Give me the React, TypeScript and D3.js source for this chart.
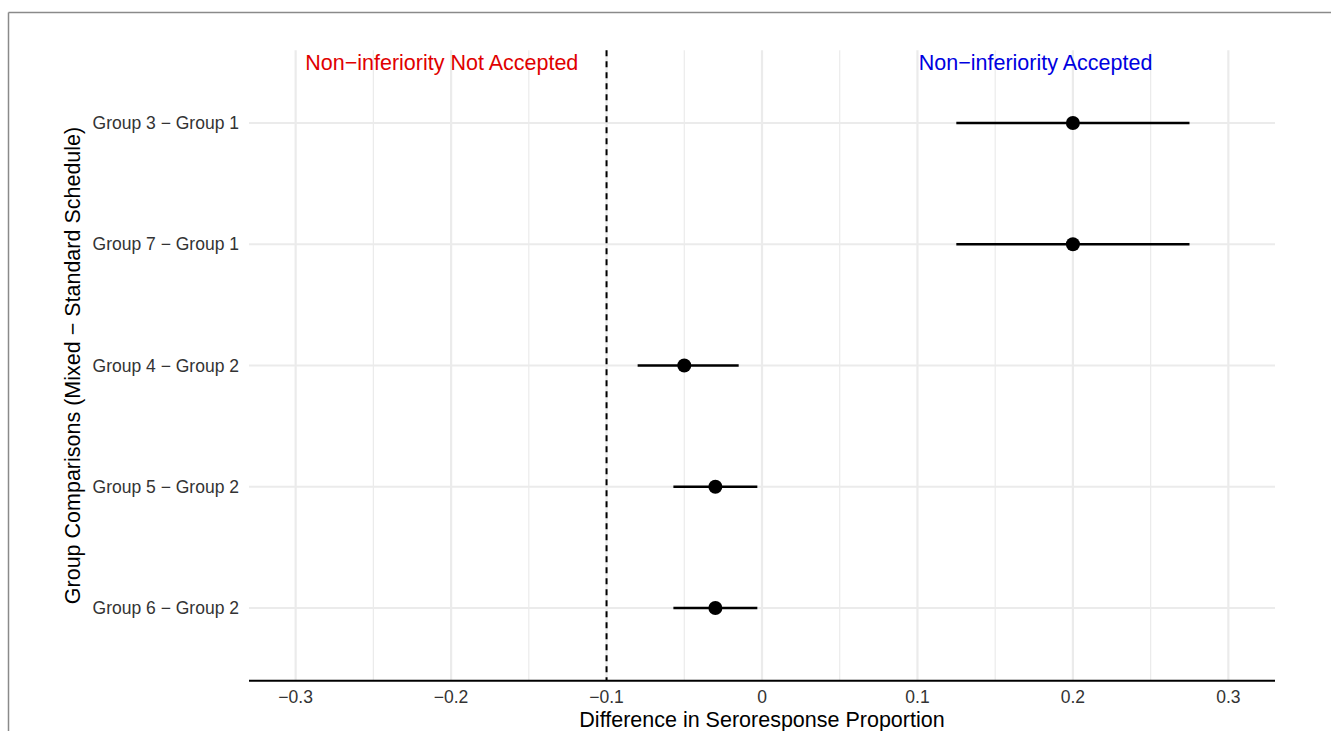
import React from "react";
import * as d3 from "d3";

const comparisons = ["Group 3 − Group 1", "Group 7 − Group 1", "Group 4 − Group 2", "Group 5 − Group 2", "Group 6 − Group 2"];
const estimates = [0.2, 0.2, -0.05, -0.03, -0.03];
const lowers = [0.125, 0.125, -0.08, -0.057, -0.057];
const uppers = [0.275, 0.275, -0.015, -0.003, -0.003];
const xTicks = [-0.3, -0.2, -0.1, 0, 0.1, 0.2, 0.3];
const xMinor = [-0.25, -0.15, -0.05, 0.05, 0.15, 0.25];
const margin = -0.1;

const W = 1331, H = 731;
const FONT = "'Liberation Sans', Arial, Helvetica, sans-serif";

export default function App() {
  const x = d3.scaleLinear().domain([-0.33, 0.33]).range([249, 1275]);
  const y = d3.scalePoint<string>().domain(comparisons).range([123, 608]);
  const step = y.step();
  const top = 123 - 0.6 * step;
  const bottom = 608 + 0.6 * step;
  const fmt = (v: number) => (v === 0 ? "0" : d3.format(".1f")(v).replace("-", "−"));

  return (
    <svg width={W} height={H} style={{ position: "absolute", left: 0, top: 0, background: "#fff" }} fontFamily={FONT}>
      <rect x={0} y={0} width={W} height={H} fill="#fff" />
      {/* outer border */}
      <line x1={8.5} y1={12.5} x2={W} y2={12.5} stroke="#8a8a8a" strokeWidth={1.5} />
      <line x1={8.5} y1={12.5} x2={8.5} y2={H} stroke="#8a8a8a" strokeWidth={1.5} />

      {/* minor grid */}
      {xMinor.map((v) => (
        <line key={"mi" + v} x1={x(v)} x2={x(v)} y1={top} y2={bottom} stroke="#ebebeb" strokeWidth={1.2} />
      ))}
      {/* major grid */}
      {xTicks.map((v) => (
        <line key={"ma" + v} x1={x(v)} x2={x(v)} y1={top} y2={bottom} stroke="#ebebeb" strokeWidth={2.2} />
      ))}
      {comparisons.map((c) => (
        <line key={"h" + c} x1={249} x2={1275} y1={y(c)} y2={y(c)} stroke="#ebebeb" strokeWidth={2.2} />
      ))}

      {/* x axis line */}
      <line x1={249} x2={1275} y1={bottom} y2={bottom} stroke="#000" strokeWidth={1.8} />

      {/* dashed margin line */}
      <line x1={x(margin)} x2={x(margin)} y1={top} y2={bottom} stroke="#000" strokeWidth={2} strokeDasharray="6,5" />

      {/* error bars and points */}
      {comparisons.map((c, i) => (
        <g key={"p" + c}>
          <line x1={x(lowers[i])} x2={x(uppers[i])} y1={y(c)} y2={y(c)} stroke="#000" strokeWidth={2.6} />
          <circle cx={x(estimates[i])} cy={y(c)} r={7} fill="#000" />
        </g>
      ))}

      {/* annotations */}
      <text x={x(-0.206)} y={70} textAnchor="middle" fill="#e00000" fontSize={21.5}>Non−inferiority Not Accepted</text>
      <text x={x(0.176)} y={70} textAnchor="middle" fill="#0000e0" fontSize={21.5}>Non−inferiority Accepted</text>

      {/* y tick labels */}
      {comparisons.map((c) => (
        <text key={"yl" + c} x={239} y={y(c)} dy="0.35em" textAnchor="end" fill="#333" fontSize={17.5}>{c}</text>
      ))}
      {/* x tick labels */}
      {xTicks.map((v) => (
        <text key={"xl" + v} x={x(v)} y={703} textAnchor="middle" fill="#333" fontSize={17.5}>{fmt(v)}</text>
      ))}

      {/* axis titles */}
      <text x={x(0)} y={727} textAnchor="middle" fill="#000" fontSize={21.5}>Difference in Seroresponse Proportion</text>
      <text transform={`translate(80, ${(top + bottom) / 2}) rotate(-90)`} textAnchor="middle" fill="#000" fontSize={21.5}>Group Comparisons (Mixed − Standard Schedule)</text>
    </svg>
  );
}
